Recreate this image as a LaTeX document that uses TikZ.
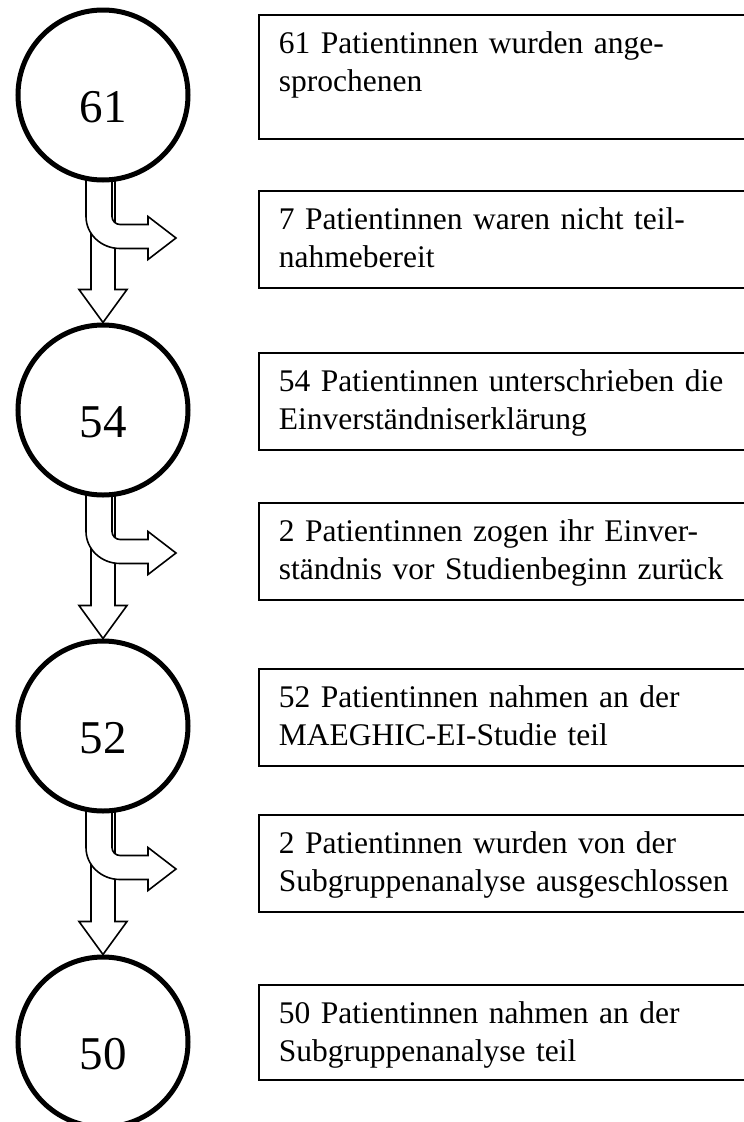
\documentclass[tikz,border=0pt]{standalone}
\usepackage{fontspec}
\setmainfont{Liberation Serif}
\usetikzlibrary{calc,backgrounds}
\tikzset{
  num/.style={circle, draw, line width=5pt, fill=white, minimum size=170pt, inner sep=0pt,
    font=\fontsize{47}{50}\selectfont, text height=55pt, text depth=0pt},
  infobox/.style={draw, line width=1.8pt, anchor=north west, inner xsep=20pt, inner ysep=0pt,
    text width=470pt, align=left, font=\fontsize{31.5}{38}\selectfont,
    text height=39pt, text depth=58pt},
  blockarrow/.style={draw, line width=1.6pt, fill=white, line join=miter}
}
% #1 = upper circle, #2 = lower circle
\newcommand\flowarrows[2]{%
  \path (#1.south) coordinate (s) (#2.north) coordinate (t);
  \draw[blockarrow] ($(s)+(-12,-10)$) -- ($(t)+(-12,-33)$) -- ($(t)+(-24,-33)$) -- (t)
    -- ($(t)+(24,-33)$) -- ($(t)+(12,-33)$) -- ($(s)+(12,-10)$) -- cycle;
  \draw[blockarrow] ($(s)+(9,-10)$) -- ($(s)+(9,34)$)
    .. controls ($(s)+(9,38.4)$) and ($(s)+(12.6,42)$) .. ($(s)+(17,42)$)
    -- ($(s)+(45,42)$) -- ($(s)+(45,34)$) -- ($(s)+(73,55.5)$) -- ($(s)+(45,77)$)
    -- ($(s)+(45,66)$) -- ($(s)+(17,66)$)
    .. controls ($(s)+(-1.8,66)$) and ($(s)+(-17,51.7)$) .. ($(s)+(-17,34)$)
    -- ($(s)+(-17,-10)$) -- cycle;
}
\begin{document}
\begin{tikzpicture}[x=1pt, y=-1pt]
  \useasboundingbox (0,0) rectangle (744,1122);
  \clip (0,0) rectangle (744,1122);

  \node[num] (c1) at (103,95) {61};
  \node[num] (c2) at (103,410) {54};
  \node[num] (c3) at (103,726) {52};
  \node[num] (c4) at (103,1042) {50};

  \node[infobox, text depth=85pt] (b1) at (258,14) {61 Patientinnen wurden ange-\\sprochenen};
  \node[infobox] (b2) at (258,190) {7 Patientinnen waren nicht teil-\\nahmebereit};
  \node[infobox] (b3) at (258,352) {54 Patientinnen unterschrieben die\\Einverständniserklärung};
  \node[infobox] (b4) at (258,502) {2 Patientinnen zogen ihr Einver-\\ständnis vor Studienbeginn zurück};
  \node[infobox] (b5) at (258,668) {52 Patientinnen nahmen an der\\MAEGHIC-EI-Studie teil};
  \node[infobox] (b6) at (258,814) {2 Patientinnen wurden von der\\Subgruppenanalyse ausgeschlossen};
  \node[infobox, text depth=56pt] (b7) at (258,984) {50 Patientinnen nahmen an der\\Subgruppenanalyse teil};

  \begin{scope}[on background layer]
    \flowarrows{c1}{c2}
    \flowarrows{c2}{c3}
    \flowarrows{c3}{c4}
  \end{scope}
\end{tikzpicture}
\end{document}
